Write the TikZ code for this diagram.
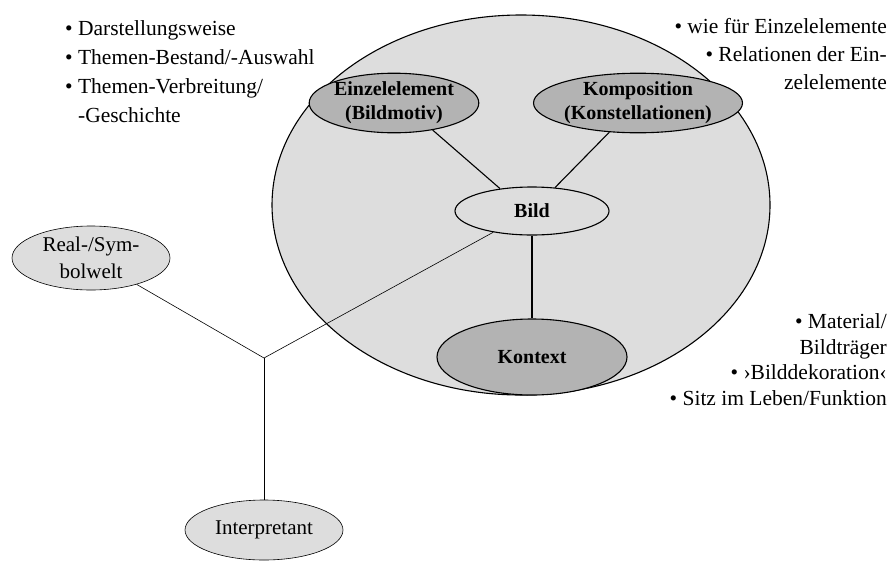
\documentclass[tikz,border=0pt]{standalone}
\usepackage{fontspec}
\setmainfont{Liberation Serif}
\usetikzlibrary{shapes.geometric}
\definecolor{lightfill}{HTML}{DDDDDD}
\definecolor{darkfill}{HTML}{B3B3B3}
\begin{document}
\begin{tikzpicture}[x=1pt,y=-1pt,
  oval/.style={ellipse, draw, line width=1.1pt, inner sep=0pt},
  lightoval/.style={oval, fill=lightfill},
  darkoval/.style={oval, fill=darkfill, font=\fontsize{20}{24}\selectfont\bfseries, align=center},
  outeroval/.style={ellipse, draw, line width=1.1pt, fill=lightfill, inner sep=0pt},
  thinoval/.style={ellipse, draw, line width=0.6pt, fill=lightfill, inner sep=0pt, align=center, font=\fontsize{21}{27}\selectfont},
  thick link/.style={line width=1.1pt},
  thin link/.style={line width=0.6pt},
  note/.style={inner sep=0pt, align=left, font=\fontsize{21.5}{29}\selectfont},
  rnote/.style={inner sep=0pt, align=right, font=\fontsize{21.5}{28}\selectfont}]
\useasboundingbox (0,0) rectangle (890,560);

% large image area
\node[outeroval, minimum width=498pt, minimum height=380pt] (bildraum) at (521,205) {};

% inner elements
\node[darkoval, minimum width=162pt, minimum height=50pt] (einzel) at (394,103) {Einzelelement\\(Bildmotiv)};
\node[darkoval, minimum width=164pt, minimum height=50pt] (kompo) at (638,103) {Komposition\\(Konstellationen)};
\node[lightoval, minimum width=154pt, minimum height=48pt, font=\fontsize{20}{24}\selectfont\bfseries] (bild) at (532,211) {Bild};
\node[darkoval, minimum width=190pt, minimum height=76pt] (kontext) at (532,357) {Kontext};

% outer elements
\node[thinoval, minimum width=158pt, minimum height=64pt] (welt) at (91,258) {Real-/Sym-\\bolwelt};
\node[thinoval, minimum width=158pt, minimum height=60pt] (interp) at (264,530) {Interpretant};
\coordinate (knoten) at (264,358);

% connectors
\draw[thick link] (einzel.-35) -- (bild.145);
\draw[thick link] (kompo) -- (bild);
\draw[thick link] (bild) -- (kontext);
\draw[thin link] (welt) -- (knoten);
\draw[thin link] (knoten) -- (bild);
\draw[thin link] (knoten) -- (interp.north);

% annotations (anchored at the baseline of their last line)
\node[note, anchor=base west] (lnotes) at (65,122) {• Darstellungsweise\\• Themen-Bestand/-Auswahl\\• Themen-Verbreitung/\\\phantom{• }-Geschichte};
\node[rnote, anchor=base east] (rnotes) at (887,89) {• wie für Einzelelemente\\• Relationen der Ein-\\zelelemente};
\node[rnote, anchor=base east, font=\fontsize{21.5}{25.5}\selectfont] (knotes) at (887,405) {• Material/\\Bildträger\\• ›Bilddekoration‹\\• Sitz im Leben/Funktion};
\end{tikzpicture}
\end{document}
